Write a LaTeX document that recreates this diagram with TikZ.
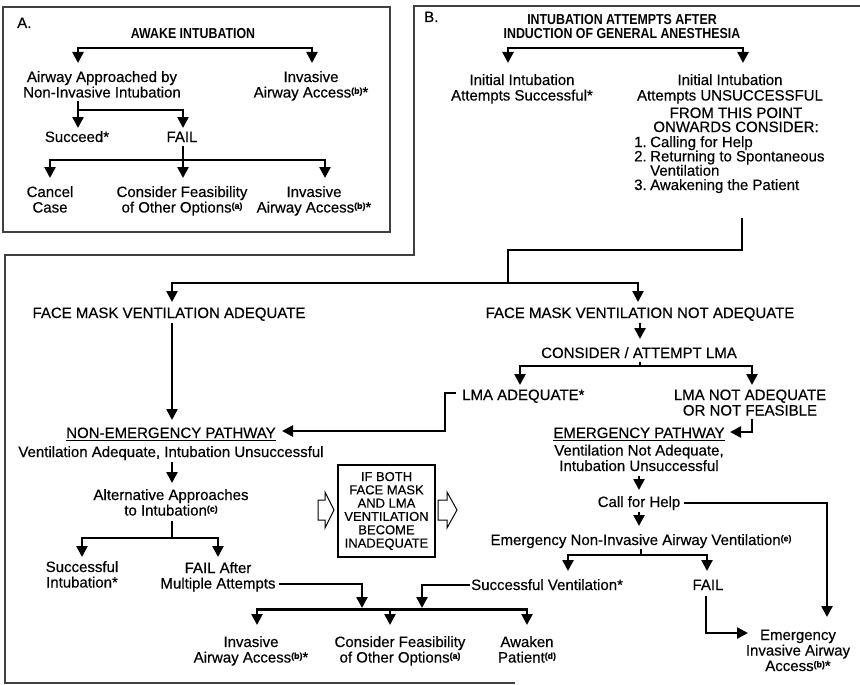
\documentclass[tikz,border=0pt]{standalone}
\usepackage{fontspec}
\setmainfont{Liberation Sans}[FakeBold=0.4]
\newfontfamily\condbf{Liberation Sans}[FakeStretch=0.86]
\usetikzlibrary{arrows.meta}
\newcommand\fnm[1]{\raisebox{3.6pt}{\fontsize{8.8}{8.8}\selectfont\bfseries(#1)}}
\newcommand\ulx[1]{\setbox0\hbox{#1}\rlap{\rule[-2.8pt]{\wd0}{1.2pt}}\box0}
\begin{document}
\begin{tikzpicture}[x=1pt,y=-1pt,
  txt/.style={font=\fontsize{15}{15.5}\selectfont, align=center, inner sep=0pt, anchor=base},
  ttl/.style={font=\condbf\bfseries\fontsize{14.4}{13.5}\selectfont, align=center, inner sep=0pt, anchor=base},
  ln/.style={line width=2.5pt},
  arr/.style={line width=2.5pt, -{Triangle[width=11pt,length=11pt]}},
  frame/.style={line width=1.3pt, draw=black!75},
  hollow/.style={line width=1pt, draw=black}
]
\useasboundingbox (0,0) rectangle (860,685);

% frames
\draw[frame] (3,7) rectangle (390,232);
\draw[frame] (860,6) -- (414,6) -- (414,255) -- (5,255) -- (5,683) -- (515,683);

% ---------- A ----------
\node[txt, anchor=base west] (labA) at (17,28) {A.};
\node[ttl] (titA) at (193,39) {AWAKE INTUBATION};
\node[txt] (airA) at (102,97.5) {Airway Approached by\\Non-Invasive Intubation};
\node[txt] (invA1) at (311,97.5) {Invasive\\Airway Access\fnm{b}*};
\node[txt] (succA) at (77,142) {Succeed*};
\node[txt] (failA) at (182,142) {FAIL};
\node[txt] (cancel) at (50,212.5) {Cancel\\Case};
\node[txt] (consA) at (182,212.5) {Consider Feasibility\\of Other Options\fnm{a}};
\node[txt] (invA2) at (314,212.5) {Invasive\\Airway Access\fnm{b}*};

\draw[arr] (193,48) -| (78,63);
\draw[arr] (193,48) -| (312,63);
\draw[arr] (78,101) -- (78,128);
\draw[arr] (78,110) -| (183,128);
\draw[arr] (183,146) -- (183,178);
\draw[arr] (183,160) -| (50,178);
\draw[arr] (183,160) -| (325,178);

% ---------- B ----------
\node[txt, anchor=base west] (labB) at (424,22) {B.};
\node[ttl] (titB) at (622,38.5) {INTUBATION ATTEMPTS AFTER\\INDUCTION OF GENERAL ANESTHESIA};
\node[txt] (initS) at (522,100.5) {Initial Intubation\\Attempts Successful*};
\node[txt] (initU) at (730,100.5) {Initial Intubation\\Attempts UNSUCCESSFUL};
\node[txt, font=\fontsize{15}{14}\selectfont] (from) at (736,132) {FROM THIS POINT\\ONWARDS CONSIDER:};
\node[txt, align=left, anchor=base west, font=\fontsize{15}{14.3}\selectfont] (list) at (634,190)
  {\makebox[16pt][l]{1.}Calling for Help\\\makebox[16pt][l]{2.}Returning to Spontaneous\\\hspace*{16pt}Ventilation\\\makebox[16pt][l]{3.}Awakening the Patient};

\draw[arr] (622,48) -| (508,63);
\draw[arr] (622,48) -| (743,63);

\draw[ln] (742,218) |- (508,250) -- (508,283);
\draw[arr] (508,283) -| (172,302);
\draw[arr] (508,283) -| (638,302);

\node[txt] (fmA) at (169,318) {FACE MASK VENTILATION ADEQUATE};
\node[txt] (fmN) at (640,318) {FACE MASK VENTILATION NOT ADEQUATE};
\node[txt] (lma) at (639,358) {CONSIDER / ATTEMPT LMA};
\node[txt, anchor=base west] (lmaA) at (462,400) {LMA ADEQUATE*};
\node[txt] (lmaN) at (750,415.5) {LMA NOT ADEQUATE\\OR NOT FEASIBLE};
\node[txt] (nonE) at (171,457) {\ulx{NON-EMERGENCY PATHWAY}\\[3.5pt]Ventilation Adequate, Intubation Unsuccessful};
\node[txt] (emP) at (639,471) {\ulx{EMERGENCY PATHWAY}\\[2pt]Ventilation Not Adequate,\\Intubation Unsuccessful};

\draw[arr] (172,323) -- (172,420);
\draw[arr] (640,323) -- (640,339);
\draw[ln] (640,362) -- (640,366);
\draw[arr] (640,366) -| (520,385);
\draw[arr] (640,366) -| (752,385);
\draw[arr] (456,393) -- (445,393) -- (445,431) -- (282,431);
\draw[arr] (752,419) |- (730,432);

\node[txt] (alt) at (171,515.5) {Alternative Approaches\\to Intubation\fnm{c}};
\node[txt] (succI) at (82,587.5) {Successful\\Intubation*};
\node[txt] (failM) at (218,588.5) {FAIL After\\Multiple Attempts};
\node[draw, line width=1.2pt, minimum width=97pt, minimum height=92pt, inner sep=0pt, align=center,
      font=\fontsize{13}{13.3}\selectfont] (ifb) at (386.5,511)
  {IF BOTH\\FACE MASK\\AND LMA\\VENTILATION\\BECOME\\INADEQUATE};

\draw[arr] (172,462) -- (172,483);
\draw[ln] (172,521) -- (172,538);
\draw[arr] (172,538) -| (82,557);
\draw[arr] (172,538) -| (218,557);

\draw[hollow] (318,500) -- (325,500) -- (325,492) -- (334,510) -- (325,528) -- (325,520) -- (318,520) -- cycle;
\draw[hollow] (438,500) -- (447,500) -- (447,492) -- (457,510) -- (447,528) -- (447,520) -- (438,520) -- cycle;

\node[txt] (call) at (639,507) {Call for Help};
\node[txt] (eniav) at (641,545) {Emergency Non-Invasive Airway Ventilation\fnm{e}};
\node[txt, anchor=base west] (succV) at (471,590) {Successful Ventilation*};
\node[txt] (failB) at (708,590) {FAIL};
\node[txt] (invB) at (251,662.5) {Invasive\\Airway Access\fnm{b}*};
\node[txt] (consB) at (400,662.5) {Consider Feasibility\\of Other Options\fnm{a}};
\node[txt] (awak) at (527,662.5) {Awaken\\Patient\fnm{d}};
\node[txt] (emInv) at (798,671) {Emergency\\Invasive Airway\\Access\fnm{b}*};

\draw[arr] (639,476) -- (639,490);
\draw[arr] (684,503) -| (827,617);
\draw[arr] (639,512) -- (639,526);
\draw[ln] (641,549) -- (641,555);
\draw[arr] (641,555) -| (568,571);
\draw[arr] (641,555) -| (707,571);
\draw[arr] (706,596) |- (748,633);

\draw[arr] (279,584) -| (362,608);
\draw[arr] (470,585) -| (422,608);
\draw[ln] (257,609.5) -- (527,609.5);
\draw[arr] (390,609) -| (257,625);
\draw[arr] (390,609) -- (390,625);
\draw[arr] (390,609) -| (527,625);
\end{tikzpicture}
\end{document}
